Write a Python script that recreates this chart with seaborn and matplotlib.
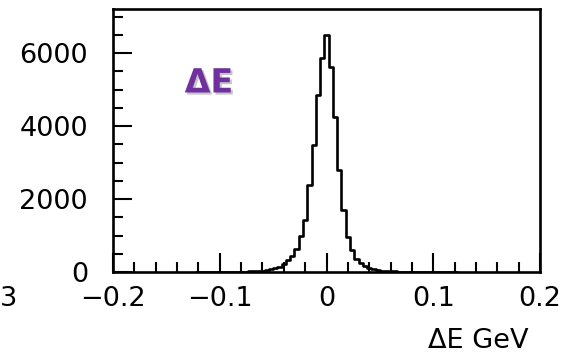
import numpy as np
import pandas as pd
import matplotlib
matplotlib.use("Agg")
import matplotlib.pyplot as plt
import matplotlib.patheffects as pe
from matplotlib.ticker import MultipleLocator
import seaborn as sns

# ---- data ----
bin_low = -0.122
bin_width = 0.004
counts = [0, 0, 1, 1, 2, 2, 3, 4, 5, 7,
          9, 12, 16, 22, 30, 40, 55, 78, 108, 150,
          225, 330, 450, 625, 975, 1420, 2380, 3480, 4865, 5870,
          6495,
          5625, 4265, 2800, 1695, 965, 600, 345, 240, 160, 105,
          72, 52, 38, 28, 21, 16, 12, 9, 7, 5,
          4, 3, 3, 2, 2, 1, 1, 1, 0, 0]
x_ticks = [-0.2, -0.1, 0.0, 0.1, 0.2]
x_tick_labels = ["\u22120.2", "\u22120.1", "0", "0.1", "0.2"]
y_ticks = [0, 2000, 4000, 6000]
y_tick_labels = ["0", "2000", "4000", "6000"]
x_label = "\u0394E GeV"
annotation = "\u0394E"

n = len(counts)
edges = bin_low + bin_width * np.arange(n + 1)
centers = (edges[:-1] + edges[1:]) / 2
df = pd.DataFrame({"dE": centers, "n": counts})

sns.set_style("white")
plt.rcParams["font.family"] = ["DejaVu Sans"]
plt.rcParams["text.color"] = "black"
plt.rcParams["xtick.color"] = "black"
plt.rcParams["ytick.color"] = "black"

fig = plt.figure(figsize=(5.75, 3.57), dpi=100)
ax = fig.add_axes([113 / 575, (357 - 272) / 357, (540 - 113) / 575, (272 - 9.5) / 357])

sns.histplot(data=df, x="dE", weights="n", binwidth=bin_width,
             binrange=(float(edges[0]), float(edges[-1])), element="step",
             fill=False, color="black", linewidth=1.9, ax=ax)

ax.set_xlim(-0.2, 0.2)
ax.set_ylim(0, 7200)
ax.set_xticks(x_ticks)
ax.set_xticklabels(x_tick_labels)
ax.set_yticks(y_ticks)
ax.set_yticklabels(y_tick_labels)
ax.xaxis.set_minor_locator(MultipleLocator(0.02))
ax.yaxis.set_minor_locator(MultipleLocator(500))
ax.tick_params(which="both", direction="in", top=False, right=False,
               bottom=True, left=True, color="black", labelcolor="black", width=1.5)
ax.tick_params(which="major", length=13.7)
ax.tick_params(which="minor", length=7)
ax.tick_params(axis="y", which="major", pad=18, labelsize=19.5)
ax.tick_params(axis="x", which="major", pad=10, labelsize=19.5)
for s in ax.spines.values():
    s.set_visible(True)
    s.set_color("black")
    s.set_linewidth(1.9)

ax.set_ylabel("")
ax.set_xlabel("")
fig.text(528 / 575, 9 / 357, x_label, fontsize=19.5, ha="right", va="baseline",
         color="black")

fig.text(209 / 575, 1 - 83 / 357, annotation, color="#7030A0", fontsize=24,
         fontweight="bold", ha="center", va="center",
         path_effects=[pe.SimplePatchShadow(offset=(1.5, -1.5), shadow_rgbFace="gray", alpha=0.45),
                       pe.Normal()])
fig.text(0, 1 - 299 / 357, "3", fontsize=19.5, ha="left", va="center", color="black")

fig.savefig("out.png", dpi=100)
